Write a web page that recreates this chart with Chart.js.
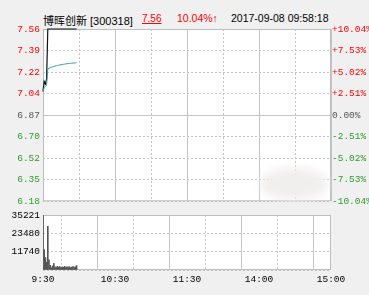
<!DOCTYPE html>
<html>
<head>
<meta charset="utf-8">
<script src="https://cdn.jsdelivr.net/npm/chart.js@4/dist/chart.umd.min.js"></script>
<style>
  html, body { margin: 0; padding: 0; background: #f0f0f0; }
  #wrap { position: relative; width: 369px; height: 295px; overflow: hidden; }
  canvas { position: absolute; left: 0; }
  .t { position: absolute; top: 12px; font: 11px 'Liberation Sans', 'Noto Sans CJK SC', sans-serif; white-space: nowrap; }
</style>
</head>
<body>
<div id="wrap">
  <span class="t" style="left:43px;color:#000">博晖创新 [300318]</span>
  <span class="t" style="left:142px;color:#f00;text-decoration:underline;font-size:10px;top:13px">7.56</span>
  <span class="t" style="left:177px;color:#f00;font-size:10.5px">10.04%↑</span>
  <span class="t" style="left:231px;color:#000;font-size:10.5px">2017-09-08 09:58:18</span>
  <canvas id="priceChart" width="369" height="210" style="top:0"></canvas>
  <canvas id="volChart" width="369" height="90" style="top:205px"></canvas>
</div>
<script>
// minutes since 9:30 (trading time)
const minutes = [0,1,2,3,4,5,6,7,8,9,10,11,12,13,14,15,16,17,18,19,20,21,22,23,24,25,26,27,28];
const price = [7.06,7.14,7.12,7.16,7.56,7.56,7.56,7.56,7.56,7.56,7.56,7.56,7.56,7.56,7.56,7.56,7.56,7.56,7.56,7.56,7.56,7.56,7.56,7.56,7.56,7.56,7.56,7.56,7.56];
const avgPrice = [7.06,7.09,7.10,7.11,7.24,7.245,7.25,7.253,7.257,7.26,7.263,7.265,7.268,7.27,7.272,7.274,7.276,7.277,7.279,7.28,7.282,7.283,7.284,7.285,7.286,7.287,7.288,7.289,7.29];
const volume = [35221,13000,8000,5000,28000,6500,3000,1500,2600,4200,2000,1600,2400,1800,2200,1500,2000,1700,2300,1600,2000,1800,2100,1500,1900,2200,1600,2000,2800];

const priceTicks = ['7.56','7.39','7.22','7.04','6.87','6.70','6.52','6.35','6.18'];
const pctTicks = ['+10.04%','+7.53%','+5.02%','+2.51%','0.00%','-2.51%','-5.02%','-7.53%','-10.04%'];
const volTicks = ['35221','23480','11740',''];
const timeLabels = ['9:30','10:30','11:30','14:00','15:00'];

const RED = '#ff0000', GREEN = '#2f9a2f', GREY = '#555555', GRID = '#c4c4c4';
const monoFont = { family: "'Liberation Mono', monospace", size: 9.5 };

function tickColor(i) { return i < 4 ? RED : (i === 4 ? GREY : GREEN); }

function evenTicks(n, min, max) {
  return function (axis) {
    const t = [];
    for (let i = 0; i < n; i++) t.push({ value: max - (max - min) * i / (n - 1) });
    axis.ticks = t;
  };
}

const xTicks = axis => { axis.ticks = [0,30,60,90,120,150,180,210,240].map(v => ({ value: v })); };

// white plot area and grey box, drawn under the data
const framePlugin = {
  id: 'frame',
  beforeDraw(chart) {
    const a = chart.chartArea, c = chart.ctx;
    c.save();
    c.fillStyle = '#ffffff';
    c.fillRect(a.left, a.top, a.right - a.left, a.bottom - a.top);
    c.restore();
  },
  beforeDatasetsDraw(chart) {
    const a = chart.chartArea, c = chart.ctx;
    c.save();
    c.strokeStyle = '#bdbdbd';
    c.lineWidth = 1;
    c.strokeRect(a.left + 0.5, a.top + 0.5, a.right - a.left - 1, a.bottom - a.top - 1);
    c.restore();
  }
};

const blurPlugin = {
  id: 'blur',
  afterDatasetsDraw(chart) {
    const c = chart.ctx;
    c.save();
    c.filter = 'blur(4px)';
    c.fillStyle = '#f1eeee';
    c.beginPath();
    c.ellipse(294, 184, 34, 16, 0, 0, Math.PI * 2);
    c.fill();
    c.restore();
  }
};

const xGrid = { color: GRID, drawTicks: false };
const xBorder = { display: false, dash: ctx => (ctx.index % 2 === 1 ? [2, 2] : []) };

new Chart(document.getElementById('priceChart'), {
  type: 'line',
  data: {
    datasets: [
      { data: minutes.map((m, i) => ({ x: m, y: avgPrice[i] })), borderColor: '#3a9e9e', borderWidth: 1, pointRadius: 0, tension: 0, clip: false },
      { data: minutes.map((m, i) => ({ x: m, y: price[i] })), borderColor: '#111111', borderWidth: 1.2, pointRadius: 0, tension: 0, clip: false }
    ]
  },
  options: {
    responsive: false,
    animation: false,
    layout: { padding: { top: 29, bottom: 8 } },
    plugins: { legend: { display: false }, tooltip: { enabled: false } },
    scales: {
      x: {
        type: 'linear', min: 0, max: 240,
        afterBuildTicks: xTicks,
        ticks: { display: false },
        grid: xGrid,
        border: xBorder
      },
      y: {
        position: 'left', min: 6.18, max: 7.56,
        afterBuildTicks: evenTicks(9, 6.18, 7.56),
        afterFit: s => { s.width = 43; },
        ticks: { padding: 3, font: monoFont, color: ctx => tickColor(ctx.index), callback: (v, i) => priceTicks[i] },
        grid: { color: GRID, drawTicks: false },
        border: { display: false, dash: ctx => (ctx.index === 4 ? [] : [2, 2]) }
      },
      y2: {
        position: 'right', min: 6.18, max: 7.56,
        afterBuildTicks: evenTicks(9, 6.18, 7.56),
        afterFit: s => { s.width = 38; },
        ticks: { padding: 1, font: monoFont, color: ctx => tickColor(ctx.index), callback: (v, i) => pctTicks[i] },
        grid: { display: false, drawTicks: false },
        border: { display: false }
      }
    }
  },
  plugins: [framePlugin, blurPlugin]
});

new Chart(document.getElementById('volChart'), {
  type: 'bar',
  data: {
    datasets: [
      { data: minutes.map((m, i) => ({ x: m, y: volume[i] })), backgroundColor: '#555555', barThickness: 1, grouped: false }
    ]
  },
  options: {
    responsive: false,
    animation: false,
    layout: { padding: { top: 10, right: 38 } },
    plugins: { legend: { display: false }, tooltip: { enabled: false } },
    scales: {
      x: {
        type: 'linear', min: 0, max: 240, offset: false,
        afterBuildTicks: xTicks,
        afterFit: s => { s.height = 25; },
        ticks: {
          autoSkip: false, maxRotation: 0, padding: 4, font: monoFont, color: '#000',
          callback: v => (v % 60 === 0 ? timeLabels[v / 60] : '')
        },
        grid: xGrid,
        border: xBorder
      },
      y: {
        min: 0, max: 35221,
        afterBuildTicks: evenTicks(4, 0, 35221),
        afterFit: s => { s.width = 43; },
        ticks: { padding: 3, font: monoFont, color: '#000', callback: (v, i) => volTicks[i] },
        grid: { color: GRID, drawTicks: false },
        border: { display: false, dash: [2, 2] }
      }
    }
  },
  plugins: [framePlugin]
});
</script>
</body>
</html>
